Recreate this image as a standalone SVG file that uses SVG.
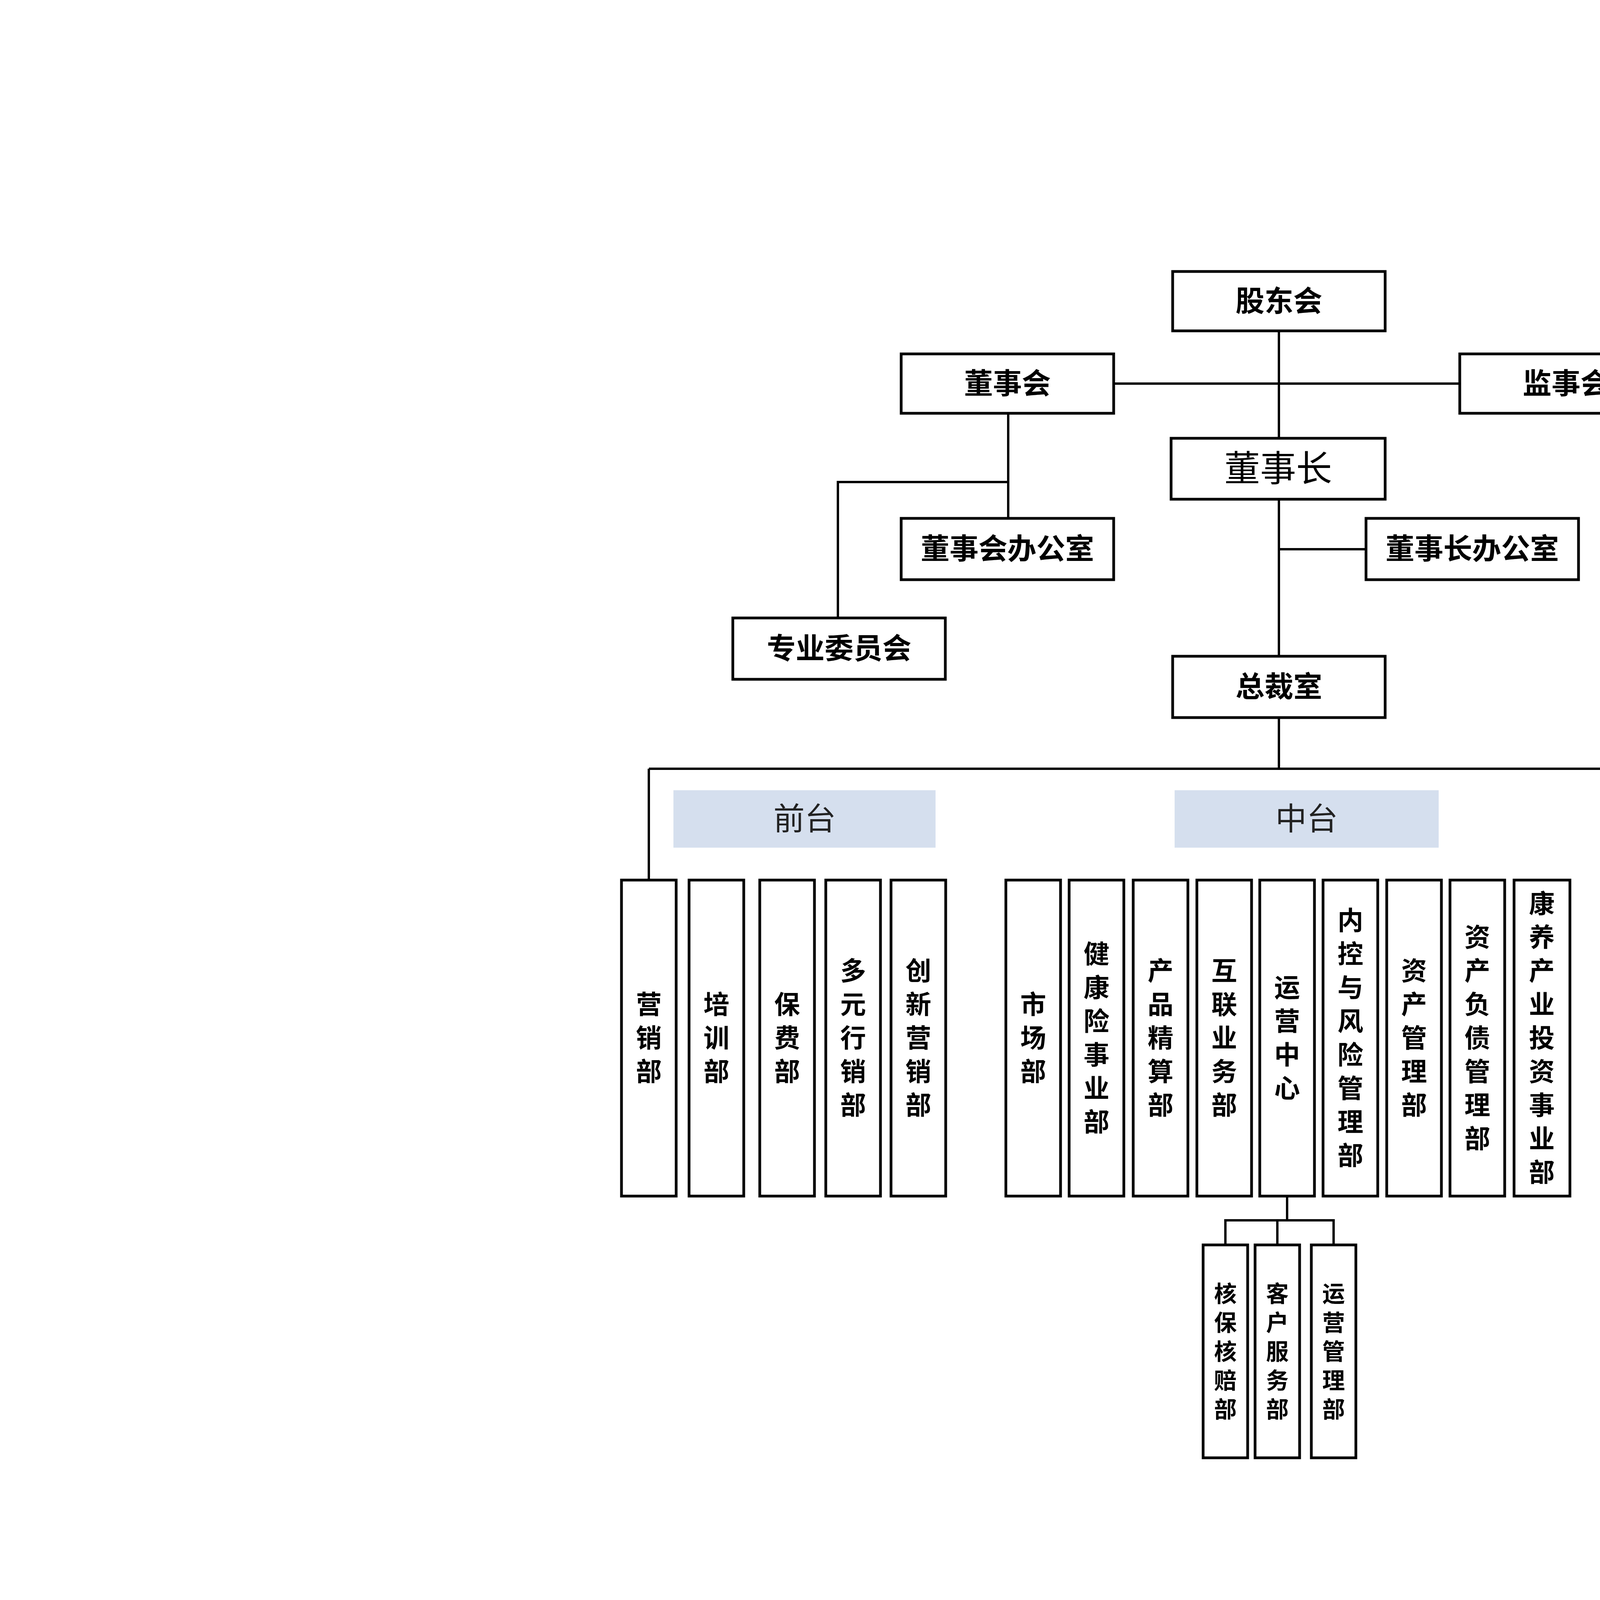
<svg xmlns="http://www.w3.org/2000/svg" width="7680" height="4320" viewBox="0 0 7680 4320">
<style>
.b{fill:#fff;stroke:#000;stroke-width:7}
.t{font-family:"Noto Sans CJK SC","Liberation Sans",sans-serif;font-weight:bold;fill:#000;text-anchor:middle}
.m{font-size:66px}.s{font-size:58px}.h{font-size:74px}
.l{fill:#d5dfee}
.lt{font-family:"Noto Sans CJK SC","Liberation Sans",sans-serif;font-size:80px;fill:#222;text-anchor:middle}
.c{fill:none;stroke:#000;stroke-width:6}
</style>
<rect width="7680" height="4320" fill="#fff"/>
<g id="connectors">
<path class="c" d="M3274 847V1680M2851 982H3737M2581 1058V1327M2581 1234H2145V1582M3274 1406H3497M3274 1837V1968M1661 1968H6107V2253M1661 1968V2253M3295 3062V3124M3137 3187V3124H3414V3187M3270 3124V3187M5521 3062V3124M4468 3187V3124H5521M4612 3124V3187M4747 3124V3187M4879 3124V3187M5028 3124V3187M5162 3124V3187M6107 3062V3124M5871 3187V3124H6157V3187M6010 3124V3187"/>
</g>
<g id="n-gdh"><rect class="b" x="3002" y="695" width="544" height="152"/><text class="t h" x="3274" y="797">股东会</text></g>
<g id="n-dsh"><rect class="b" x="2307" y="906" width="544" height="152"/><text class="t h" x="2579" y="1008">董事会</text></g>
<g id="n-jsh"><rect class="b" x="3737" y="906" width="544" height="152"/><text class="t h" x="4009" y="1008">监事会</text></g>
<g id="n-dsz"><rect class="b" x="2998" y="1122" width="548" height="156"/><text class="t" x="3272" y="1232" style="font-size:92px;font-weight:normal">董事长</text></g>
<g id="n-dshbgs"><rect class="b" x="2307" y="1327" width="544" height="157"/><text class="t h" x="2579" y="1431">董事会办公室</text></g>
<g id="n-dszbgs"><rect class="b" x="3497" y="1327" width="544" height="157"/><text class="t h" x="3769" y="1431">董事长办公室</text></g>
<g id="n-zywyh"><rect class="b" x="1876" y="1582" width="544" height="157"/><text class="t h" x="2148" y="1686">专业委员会</text></g>
<g id="n-zcs"><rect class="b" x="3002" y="1680" width="544" height="157"/><text class="t h" x="3274" y="1784">总裁室</text></g>
<g id="lbl-qt"><rect class="l" x="1724" y="2023" width="671" height="147"/><text class="lt" x="2060" y="2124">前台</text></g>
<g id="lbl-zt"><rect class="l" x="3007" y="2023" width="676" height="147"/><text class="lt" x="3345" y="2124">中台</text></g>
<g id="lbl-ht"><rect class="l" x="4888" y="2013" width="676" height="147"/><text class="lt" x="5226" y="2114">后台</text></g>
<g id="n-yxb"><rect class="b" x="1591" y="2253" width="140" height="809"/><text class="t m" x="1661 1661 1661" y="2595 2681 2767">营销部</text></g>
<g id="n-pxb"><rect class="b" x="1764" y="2253" width="140" height="809"/><text class="t m" x="1834 1834 1834" y="2595 2681 2767">培训部</text></g>
<g id="n-bfb"><rect class="b" x="1945" y="2253" width="140" height="809"/><text class="t m" x="2015 2015 2015" y="2595 2681 2767">保费部</text></g>
<g id="n-dyhxb"><rect class="b" x="2114" y="2253" width="140" height="809"/><text class="t m" x="2184 2184 2184 2184 2184" y="2509 2595 2681 2767 2853">多元行销部</text></g>
<g id="n-cxyxb"><rect class="b" x="2281" y="2253" width="140" height="809"/><text class="t m" x="2351 2351 2351 2351 2351" y="2509 2595 2681 2767 2853">创新营销部</text></g>
<g id="n-scb"><rect class="b" x="2575" y="2253" width="140" height="809"/><text class="t m" x="2645 2645 2645" y="2595 2681 2767">市场部</text></g>
<g id="n-jkx"><rect class="b" x="2737" y="2253" width="140" height="809"/><text class="t m" x="2807 2807 2807 2807 2807 2807" y="2466 2552 2638 2724 2810 2896">健康险事业部</text></g>
<g id="n-cpjs"><rect class="b" x="2901" y="2253" width="140" height="809"/><text class="t m" x="2971 2971 2971 2971 2971" y="2509 2595 2681 2767 2853">产品精算部</text></g>
<g id="n-hlyw"><rect class="b" x="3064" y="2253" width="140" height="809"/><text class="t m" x="3134 3134 3134 3134 3134" y="2509 2595 2681 2767 2853">互联业务部</text></g>
<g id="n-yyzx"><rect class="b" x="3225" y="2253" width="140" height="809"/><text class="t m" x="3295 3295 3295 3295" y="2552 2638 2724 2810">运营中心</text></g>
<g id="n-nkfx"><rect class="b" x="3387" y="2253" width="140" height="809"/><text class="t m" x="3457 3457 3457 3457 3457 3457 3457 3457" y="2380 2466 2552 2638 2724 2810 2896 2982">内控与风险管理部</text></g>
<g id="n-zcgl"><rect class="b" x="3550" y="2253" width="140" height="809"/><text class="t m" x="3620 3620 3620 3620 3620" y="2509 2595 2681 2767 2853">资产管理部</text></g>
<g id="n-zcfz"><rect class="b" x="3712" y="2253" width="140" height="809"/><text class="t m" x="3782 3782 3782 3782 3782 3782 3782" y="2423 2509 2595 2681 2767 2853 2939">资产负债管理部</text></g>
<g id="n-kycy"><rect class="b" x="3876" y="2253" width="143" height="809"/><text class="t m" x="3947 3947 3947 3947 3947 3947 3947 3947 3947" y="2337 2423 2509 2595 2681 2767 2853 2939 3025">康养产业投资事业部</text></g>
<g id="n-jhjc"><rect class="b" x="4216" y="2253" width="140" height="809"/><text class="t m" x="4286 4286 4286 4286 4286" y="2509 2595 2681 2767 2853">稽核监察部</text></g>
<g id="n-rlzy"><rect class="b" x="4391" y="2253" width="140" height="809"/><text class="t m" x="4461 4461 4461 4461 4461" y="2509 2595 2681 2767 2853">人力资源部</text></g>
<g id="n-cwb"><rect class="b" x="4567" y="2253" width="140" height="809"/><text class="t m" x="4637 4637 4637" y="2595 2681 2767">财务部</text></g>
<g id="n-wkb"><rect class="b" x="4743" y="2253" width="140" height="809"/><text class="t m" x="4813 4813 4813" y="2595 2681 2767">物控部</text></g>
<g id="n-qhb"><rect class="b" x="4920" y="2253" width="140" height="809"/><text class="t m" x="4990 4990 4990" y="2595 2681 2767">企划部</text></g>
<g id="n-zlfz"><rect class="b" x="5097" y="2253" width="140" height="809"/><text class="t m" x="5167 5167 5167 5167 5167" y="2509 2595 2681 2767 2853">战略发展部</text></g>
<g id="n-flhg"><rect class="b" x="5272" y="2253" width="140" height="809"/><text class="t m" x="5342 5342 5342 5342 5342" y="2509 2595 2681 2767 2853">法律合规部</text></g>
<g id="n-xxgl"><rect class="b" x="5451" y="2253" width="140" height="809"/><text class="t m" x="5521 5521 5521 5521 5521 5521" y="2466 2552 2638 2724 2810 2896">信息管理中心</text></g>
<g id="n-dwbgs"><rect class="b" x="5641" y="2245" width="133" height="817"/><text class="t m" x="5707 5707 5707 5707 5707" y="2490 2576 2662 2748 2834">党委办公室</text></g>
<g id="n-zhxz"><rect class="b" x="5803" y="2253" width="137" height="809"/><text class="t m" x="5871 5871 5871 5871 5871" y="2509 2595 2681 2767 2853">综合行政部</text></g>
<g id="n-jzzy"><rect class="b" x="6037" y="2253" width="140" height="809"/><text class="t m" x="6107 6107 6107 6107 6107 6107" y="2466 2552 2638 2724 2810 2896">集中作业中心</text></g>
<g id="n-hbhp"><rect class="b" x="3080" y="3187" width="114" height="545"/><text class="t s" x="3137 3137 3137 3137 3137" y="3333 3407 3481 3555 3629">核保核赔部</text></g>
<g id="n-khfw"><rect class="b" x="3213" y="3187" width="114" height="545"/><text class="t s" x="3270 3270 3270 3270 3270" y="3333 3407 3481 3555 3629">客户服务部</text></g>
<g id="n-yygl"><rect class="b" x="3357" y="3187" width="114" height="545"/><text class="t s" x="3414 3414 3414 3414 3414" y="3333 3407 3481 3555 3629">运营管理部</text></g>
<g id="n-yykf1"><rect class="b" x="4411" y="3187" width="114" height="545"/><text class="t s" x="4468 4468 4468 4468 4468 4468" y="3296 3370 3444 3518 3592 3666">应用开发一部</text></g>
<g id="n-yykf2"><rect class="b" x="4555" y="3187" width="114" height="545"/><text class="t s" x="4612 4612 4612 4612 4612 4612" y="3296 3370 3444 3518 3592 3666">应用开发二部</text></g>
<g id="n-jcjg"><rect class="b" x="4690" y="3187" width="114" height="545"/><text class="t s" x="4747 4747 4747 4747 4747" y="3333 3407 3481 3555 3629">基础架构部</text></g>
<g id="n-yywh"><rect class="b" x="4822" y="3187" width="114" height="545"/><text class="t s" x="4879 4879 4879 4879 4879" y="3333 3407 3481 3555 3629">运营维护部</text></g>
<g id="n-xjs"><rect class="b" x="4971" y="3187" width="114" height="545"/><text class="t s" x="5028 5028 5028 5028" y="3370 3444 3518 3592">新技术部</text></g>
<g id="n-xxfk"><rect class="b" x="5105" y="3187" width="114" height="545"/><text class="t s" x="5162 5162 5162 5162 5162 5162 5162" y="3259 3333 3407 3481 3555 3629 3703">信息风控管理部</text></g>
<g id="n-sxzy"><rect class="b" x="5814" y="3187" width="114" height="545"/><text class="t s" x="5871 5871 5871 5871 5871 5871" y="3296 3370 3444 3518 3592 3666">寿险作业中心</text></g>
<g id="n-kjzy"><rect class="b" x="5953" y="3187" width="114" height="545"/><text class="t s" x="6010 6010 6010 6010 6010 6010" y="3296 3370 3444 3518 3592 3666">会计作业中心</text></g>
<g id="n-dhzy"><rect class="b" x="6100" y="3187" width="114" height="545"/><text class="t s" x="6157 6157 6157 6157 6157 6157" y="3296 3370 3444 3518 3592 3666">电话作业中心</text></g>
</svg>
